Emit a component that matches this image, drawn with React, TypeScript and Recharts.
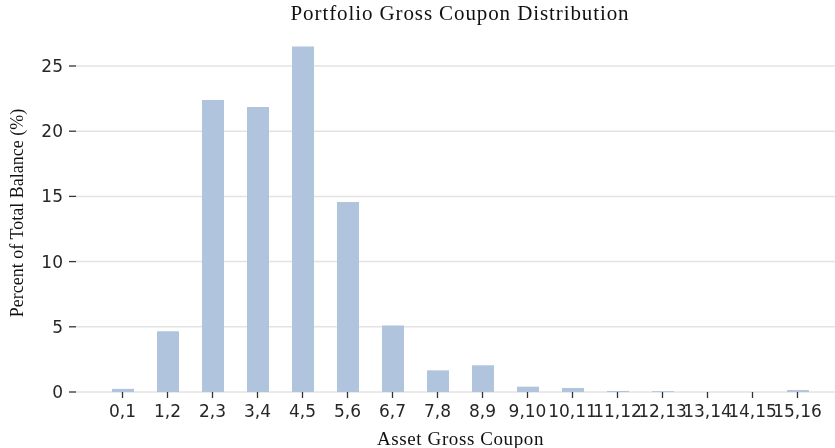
import { BarChart, Bar, XAxis, YAxis, CartesianGrid, Label } from "recharts";

const buckets = [
  "0,1", "1,2", "2,3", "3,4", "4,5", "5,6", "6,7", "7,8",
  "8,9", "9,10", "10,11", "11,12", "12,13", "13,14", "14,15", "15,16",
];
const percentOfBalance = [
  0.24, 4.65, 22.4, 21.85, 26.5, 14.57, 5.1, 1.66,
  2.05, 0.41, 0.31, 0.08, 0.06, 0, 0, 0.15,
];
const yTicks = [0, 5, 10, 15, 20, 25];

const data = buckets.map((b, i) => ({ bucket: b, pct: percentOfBalance[i] }));

const sans = "'DejaVu Sans', sans-serif";
const serif = "'Liberation Serif', 'Times New Roman', serif";

export default function App() {
  return (
    <div style={{ position: "fixed", left: 0, top: 0, width: 835, height: 448, background: "#fff" }}>
      <div
        style={{
          position: "absolute",
          left: 0,
          width: 920,
          top: 1,
          textAlign: "center",
          fontFamily: serif,
          fontSize: 21,
          letterSpacing: 0.9,
          color: "#111",
          whiteSpace: "nowrap",
        }}
      >
        Portfolio Gross Coupon Distribution
      </div>
      <BarChart
        width={835}
        height={448}
        data={data}
        margin={{ top: 30, right: 0, bottom: 0, left: 0 }}
        barSize={22}
      >
        <CartesianGrid vertical={false} horizontalValues={yTicks} stroke="#e3e3e3" strokeWidth={1.5} />
        <XAxis
          dataKey="bucket"
          height={56}
          padding={{ left: 24, right: 15 }}
          interval={0}
          axisLine={false}
          tickSize={6}
          tickMargin={7}
          tickLine={{ stroke: "#333", strokeWidth: 1.3 }}
          tick={{ fill: "#262626", fontSize: 17, fontFamily: sans }}
        >
          <Label
            value="Asset Gross Coupon"
            position="insideBottom"
            offset={3}
            dx={5}
            style={{ fill: "#111", fontSize: 19, letterSpacing: 0.6, fontFamily: serif }}
          />
        </XAxis>
        <YAxis
          width={76}
          domain={[0, 27.76]}
          ticks={yTicks}
          axisLine={false}
          tickSize={7}
          tickMargin={6}
          tickLine={{ stroke: "#333", strokeWidth: 1.3 }}
          tick={{ fill: "#262626", fontSize: 17, fontFamily: sans }}
        >
          <Label
            value="Percent of Total Balance (%)"
            angle={-90}
            position="insideLeft"
            offset={0}
            content={({ viewBox }: any) => {
              const cx = 17;
              const cy = viewBox.y + viewBox.height / 2 + 2;
              return (
                <text
                  x={cx}
                  y={cy}
                  transform={`rotate(-90, ${cx}, ${cy})`}
                  textAnchor="middle"
                  dominantBaseline="central"
                  style={{ fill: "#111", fontSize: 18, fontFamily: serif }}
                >
                  Percent of Total Balance (%)
                </text>
              );
            }}
          />
        </YAxis>
        <Bar dataKey="pct" fill="#b0c4de" isAnimationActive={false} />
      </BarChart>
    </div>
  );
}
